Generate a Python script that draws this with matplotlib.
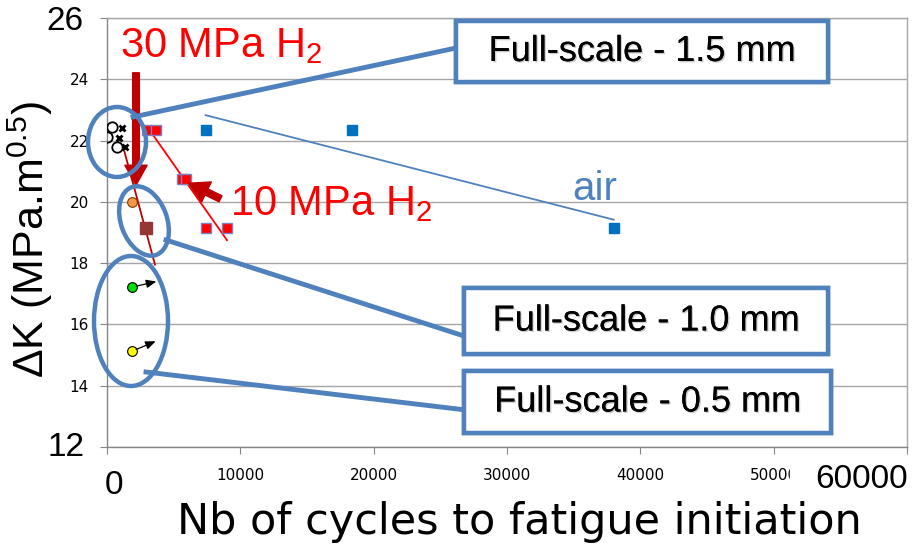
import numpy as np
import matplotlib
matplotlib.use("Agg")
import matplotlib.pyplot as plt
import matplotlib.patheffects as pe
from matplotlib.patches import Ellipse, Rectangle, FancyArrowPatch
from matplotlib.transforms import Affine2D

plt.rcParams['font.family'] = ['Liberation Sans', 'DejaVu Sans']
plt.rcParams['mathtext.fontset'] = 'custom'
plt.rcParams['mathtext.rm'] = 'Liberation Sans'
plt.rcParams['mathtext.it'] = 'Liberation Sans:italic'

# data
air_x = [7400, 18400, 38000]
air_y = [22.35, 22.35, 19.15]

h10_x = [3000, 3700, 5600, 5900, 7400, 9000]
h10_y = [22.35, 22.35, 20.75, 20.75, 19.15, 19.15]

h30_circ_x = [400, 30, 750]
h30_circ_y = [22.45, 22.12, 21.8]
h30_cross_x = [1100, 900, 1350]
h30_cross_y = [22.4, 22.1, 21.8]

orange_x, orange_y = [1900], [20.0]
brown_x, brown_y = [2900], [19.15]
green_x, green_y = [1900], [17.22]
yellow_x, yellow_y = [1900], [15.13]
# run-out arrows (start = point, end = arrow tip)
runout_x0 = [1900, 1900]
runout_y0 = [17.22, 15.13]
runout_x1 = [3700, 3650]
runout_y1 = [17.4, 15.45]

trend30_x = [1300, 3600]
trend30_y = [21.65, 17.95]

x_ticks = [0, 10000, 20000, 30000, 40000, 50000, 60000]
y_ticks = [12, 14, 16, 18, 20, 22, 24, 26]

W, H = 916, 548
fig = plt.figure(figsize=(W / 100, H / 100), dpi=100)
ax = fig.add_axes([107 / W, 1 - 447 / H, 800 / W, 429 / H])
# image-pixel coordinates (y down) for the callouts
pix = Affine2D().scale(1 / W, -1 / H).translate(0, 1) + fig.transFigure

ax.set_xlim(0, 60000)
ax.set_ylim(12, 26)
ax.set_xticks(x_ticks)
ax.set_xticklabels(['' if v in (0, 60000) else str(v) for v in x_ticks],
                   fontsize=11, family='DejaVu Sans')
ax.set_yticks(y_ticks)
ax.set_yticklabels(['' if v in (12, 26) else str(v) for v in y_ticks],
                   fontsize=11, family='DejaVu Sans')
ax.tick_params(direction='out', length=5, color='#868686', pad=8)
ax.tick_params(axis='x', pad=10)
ax.grid(axis='y', color='#A6A6A6', lw=1)
ax.set_axisbelow(True)
for s in ax.spines.values():
    s.set_color('#A6A6A6')
    s.set_linewidth(1)
ax.spines['left'].set_color('#868686')
ax.spines['bottom'].set_color('#868686')

# trendlines
p = np.polyfit(air_x, air_y, 1)
xx = np.array([min(air_x), max(air_x)])
ax.plot(xx, np.polyval(p, xx), color='#4F81BD', lw=1.3, zorder=2)
p = np.polyfit(h10_x, h10_y, 1)
xx = np.array([min(h10_x), max(h10_x)])
ax.plot(xx, np.polyval(p, xx), color='#FF0000', lw=1.3, zorder=2)
ax.plot(trend30_x, trend30_y, color='#C00000', lw=1.3, zorder=2)

# points
ax.plot(air_x, air_y, 's', color='#0070C0', ms=7, zorder=4)
ax.plot(h10_x, h10_y, 's', mfc='#FF0000', mec='#8080C0', mew=1, ms=7, zorder=4)
ax.plot(h30_circ_x, h30_circ_y, 'o', mfc='none', mec='black', mew=1.3, ms=7.5, zorder=4)
ax.plot(h30_cross_x, h30_cross_y, 'x', color='black', mew=2, ms=5, zorder=4)
ax.plot(orange_x, orange_y, 'o', mfc='#F79646', mec='#7F3F00', mew=0.8, ms=7, zorder=4)
ax.plot(brown_x, brown_y, 's', color='#953735', ms=8, zorder=4)
ax.plot(green_x, green_y, 'o', mfc='#00E000', mec='black', mew=0.8, ms=7, zorder=4)
ax.plot(yellow_x, yellow_y, 'o', mfc='#FFFF00', mec='black', mew=0.8, ms=7, zorder=4)
for i in range(len(runout_x0)):
    ax.annotate('', xy=(runout_x1[i], runout_y1[i]), xytext=(runout_x0[i], runout_y0[i]),
                arrowprops=dict(arrowstyle='-|>,head_length=0.6,head_width=0.25',
                                color='black', lw=0.9, shrinkA=3, shrinkB=0), zorder=4)

# big tick labels
fig.text(84 / W, 1 - 21 / H, '26', fontsize=24, ha='right', va='center')
fig.text(84 / W, 1 - 448 / H, '12', fontsize=24, ha='right', va='center')
fig.text(114 / W, 1 - 485 / H, '0', fontsize=24, ha='center', va='center')
fig.patches.append(Rectangle((790, 455), 130, 45, transform=pix, color='white', zorder=2))
fig.text(862 / W, 1 - 480 / H, '60000', fontsize=24, ha='center', va='center', zorder=3)

# axis titles
fig.text(30 / W, 1 - 240 / H, 'ΔK (MPa.m$^{0.5}$)', fontsize=31, rotation=90,
         ha='center', va='center')
fig.text(519 / W, 1 - 522 / H, 'Nb of cycles to fatigue initiation', fontsize=31,
         family='DejaVu Sans', ha='center', va='center')

# labels
fig.text(120 / W, 1 - 57 / H, '30 MPa H$_2$', fontsize=30, color='#FF0000', va='baseline')
fig.text(230 / W, 1 - 215 / H, '10 MPa H$_2$', fontsize=30, color='#FF0000', va='baseline')
fig.text(572 / W, 1 - 200 / H, 'air', fontsize=29, color='#4F81BD', va='baseline')

# dark red arrows
for tail, tip in [((136, 70), (136, 188)), ((223, 200), (186, 182))]:
    fig.patches.append(FancyArrowPatch(tail, tip, transform=pix,
                       arrowstyle='simple,head_length=0.9,head_width=1.0,tail_width=0.3',
                       mutation_scale=16, color='#C00000', zorder=5))

blue = '#4F81BD'
# ellipses
for cx, cy, w, h, ang in [(117, 142, 58, 70, 0), (144, 221, 46, 72, -20), (131, 321, 74, 130, 0)]:
    fig.patches.append(Ellipse((cx, cy), w, h, angle=ang, transform=pix, fill=False,
                               ec=blue, lw=3.2, zorder=6))
# connectors
for (x0, y0), (x1, y1) in [((133, 117), (456, 48)), ((166, 240), (464, 336)), ((146, 372), (466, 410))]:
    fig.lines.append(plt.Line2D([x0, x1], [y0, y1], transform=pix, color=blue, lw=3.5, zorder=6))

# boxes
shadow = [pe.withSimplePatchShadow(offset=(1.5, -1.5), shadow_rgbFace='gray', alpha=0.4), pe.Normal()]
for x0, y0, x1, y1, txt in [(456, 21, 828, 82, 'Full-scale - 1.5 mm'),
                            (464, 288, 828, 354, 'Full-scale - 1.0 mm'),
                            (464, 371, 831, 433, 'Full-scale - 0.5 mm')]:
    fig.patches.append(Rectangle((x0, y0), x1 - x0, y1 - y0, transform=pix, fc='white',
                                 ec=blue, lw=3.2, zorder=7, path_effects=shadow))
    fig.text((x0 + x1) / 2 / W, 1 - (y0 + y1) / 2 / H, txt, fontsize=26, ha='center',
             va='center', zorder=8,
             path_effects=[pe.withSimplePatchShadow(offset=(1, -1), shadow_rgbFace='gray', alpha=0.4), pe.Normal()])

fig.savefig('out.png', dpi=100)
